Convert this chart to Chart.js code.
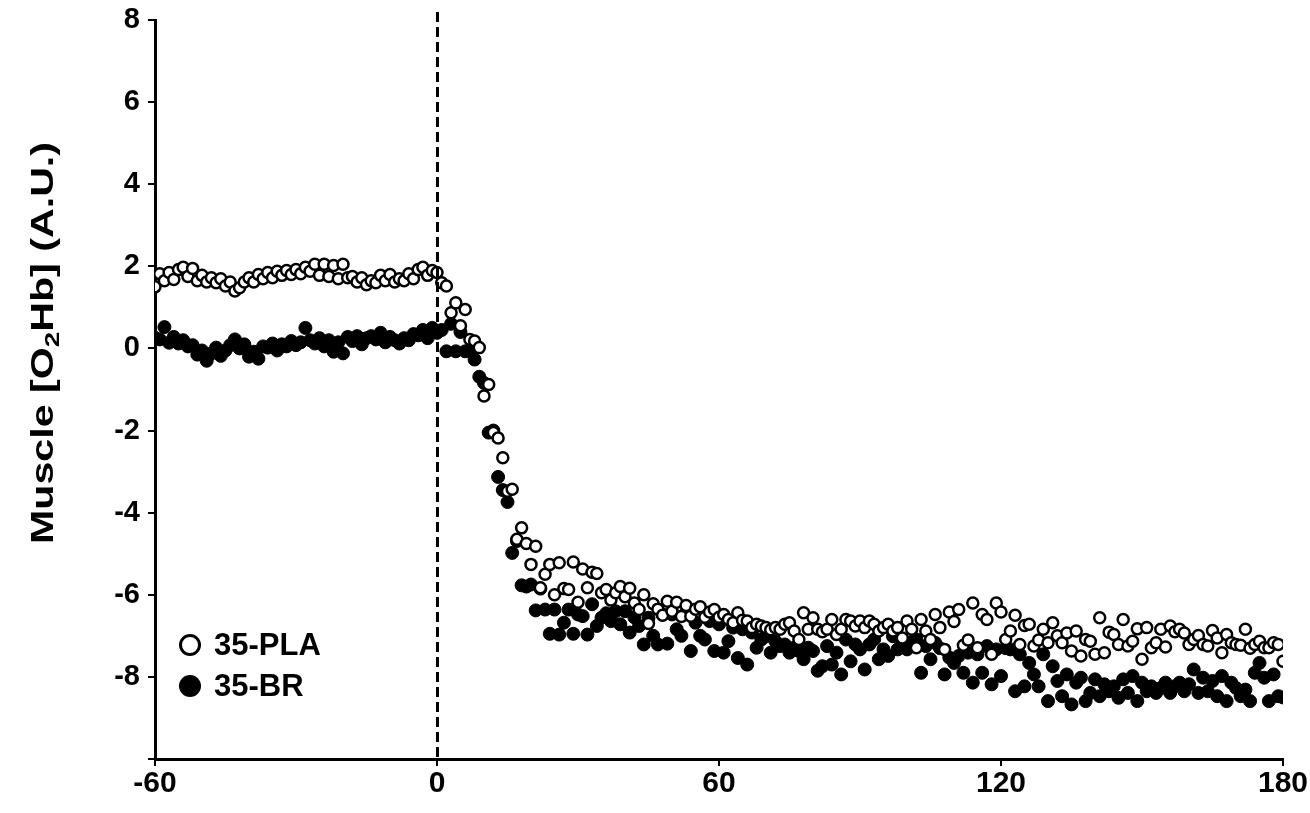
<!DOCTYPE html>
<html><head><meta charset="utf-8">
<script src="https://cdn.jsdelivr.net/npm/chart.js@4/dist/chart.umd.min.js"></script>
<style>html,body{margin:0;padding:0;background:#fff}#wrap{width:1310px;height:813px;position:relative}</style>
</head><body><div id="wrap"><canvas id="c" width="1310" height="813"></canvas></div>
<script>
// time in seconds (1 Hz samples, -60 .. 180)
const seconds = Array.from({length: 241}, (_, i) => i - 60);

// 35-PLA (open circles)
const pla = [
 1.50, 1.82, 1.65, 1.85, 1.68, 1.92, 1.98, 1.75, 1.95, 1.65,
 1.78, 1.62, 1.72, 1.60, 1.70, 1.52, 1.62, 1.40, 1.48, 1.62,
 1.72, 1.62, 1.80, 1.70, 1.85, 1.72, 1.88, 1.78, 1.90, 1.80,
 1.92, 1.82, 1.98, 1.88, 2.05, 1.78, 2.05, 1.75, 2.02, 1.70,
 2.05, 1.72, 1.75, 1.62, 1.72, 1.55, 1.65, 1.60, 1.78, 1.65,
 1.80, 1.62, 1.70, 1.65, 1.82, 1.70, 1.92, 1.98, 1.78, 1.90,
 1.85, 1.60, 1.52, 0.87, 1.11, 0.55, 0.95, 0.22, 0.18, 0.02,
 -1.16, -0.88, -2.05, -2.18, -2.66, -3.48, -3.43, -4.65, -4.37, -4.75,
 -5.26, -4.82, -5.83, -5.50, -5.26, -6.00, -5.22, -5.85, -5.87, -5.20,
 -6.18, -5.37, -5.83, -5.45, -5.48, -5.95, -5.87, -6.13, -5.95, -5.80,
 -6.05, -5.84, -6.20, -6.36, -6.00, -6.70, -6.22, -6.35, -6.50, -6.16,
 -6.40, -6.18, -6.53, -6.26, -6.52, -6.35, -6.29, -6.55, -6.42, -6.36,
 -6.55, -6.48, -6.60, -6.68, -6.44, -6.62, -6.64, -6.80, -6.72, -6.76,
 -6.80, -6.85, -6.80, -6.84, -6.72, -6.68, -6.88, -7.09, -6.44, -6.84,
 -6.56, -6.84, -6.90, -6.84, -6.60, -6.97, -6.84, -6.60, -6.64, -6.76,
 -6.64, -6.80, -6.64, -6.72, -6.88, -6.80, -6.72, -6.88, -6.80, -7.05,
 -6.64, -6.84, -7.29, -6.60, -6.88, -7.09, -6.48, -6.80, -7.33, -6.42,
 -6.65, -6.36, -7.23, -7.10, -6.20, -7.29, -6.48, -6.60, -7.45, -6.20,
 -6.42, -7.09, -6.88, -6.50, -7.21, -6.75, -6.72, -7.25, -7.10, -6.84,
 -7.17, -6.68, -7.00, -7.17, -6.93, -7.37, -6.88, -7.49, -7.09, -7.13,
 -7.45, -6.56, -7.41, -6.91, -6.97, -7.21, -6.60, -7.25, -7.13, -6.83,
 -7.57, -6.80, -7.29, -7.17, -6.84, -7.27, -6.76, -6.90, -6.84, -6.93,
 -7.21, -7.09, -6.99, -7.21, -7.25, -6.87, -7.05, -7.41, -6.97, -7.17,
 -7.21, -7.23, -6.84, -7.30, -7.21, -7.13, -7.29, -7.29, -7.17, -7.21,
 -7.62
];

// 35-BR (filled circles)
const br = [
 0.26, 0.22, 0.52, 0.14, 0.28, 0.12, 0.20, 0.05, 0.08, -0.15,
 -0.05, -0.30, -0.12, 0.02, -0.18, -0.05, 0.08, 0.22, 0.00, 0.10,
 -0.20, -0.08, -0.25, 0.05, 0.02, 0.12, -0.05, 0.10, 0.05, 0.18,
 0.08, 0.15, 0.50, 0.20, 0.12, 0.25, 0.05, 0.20, -0.08, 0.15,
 -0.12, 0.28, 0.18, 0.30, 0.10, 0.25, 0.30, 0.22, 0.38, 0.15,
 0.28, 0.20, 0.12, 0.25, 0.20, 0.35, 0.32, 0.45, 0.25, 0.50,
 0.38, 0.45, -0.07, 0.60, -0.07, 0.40, -0.07, -0.07, -0.27, -0.69,
 -0.84, -2.05, -2.00, -3.13, -3.45, -3.74, -4.98, -4.69, -5.77, -5.80,
 -5.75, -6.38, -5.85, -6.36, -6.95, -6.36, -6.97, -6.68, -6.36, -6.95,
 -6.48, -6.52, -6.97, -6.23, -6.76, -6.56, -6.45, -6.64, -6.40, -6.72,
 -6.40, -6.92, -6.55, -6.76, -7.21, -6.56, -7.00, -7.21, -6.48, -7.19,
 -6.48, -6.84, -7.00, -6.44, -7.37, -6.68, -7.00, -7.09, -6.64, -7.37,
 -6.72, -7.41, -7.13, -6.80, -7.54, -6.84, -7.70, -6.92, -7.29, -7.09,
 -7.01, -7.41, -7.13, -7.25, -7.21, -7.41, -7.29, -7.37, -7.57, -7.29,
 -7.37, -7.85, -7.74, -7.25, -7.70, -7.41, -7.94, -7.09, -7.62, -7.21,
 -7.33, -7.82, -7.21, -7.09, -7.57, -7.33, -7.49, -7.01, -7.33, -7.20,
 -7.33, -7.15, -7.09, -7.90, -7.25, -7.57, -7.17, -7.30, -7.94, -7.53,
 -7.66, -7.49, -7.90, -7.41, -8.14, -7.45, -7.90, -7.25, -8.18, -7.33,
 -7.98, -7.30, -7.33, -8.35, -7.45, -8.23, -7.66, -7.94, -8.23, -7.45,
 -8.59, -7.74, -8.10, -8.47, -7.94, -8.67, -8.14, -8.02, -8.59, -8.39,
 -8.06, -8.47, -8.18, -8.35, -8.23, -8.51, -8.06, -8.39, -7.98, -8.59,
 -8.14, -8.35, -8.23, -8.39, -8.27, -8.14, -8.39, -8.23, -8.14, -8.35,
 -8.18, -7.82, -8.39, -8.02, -8.35, -8.10, -8.47, -7.98, -8.59, -8.14,
 -8.27, -8.47, -8.31, -8.59, -7.90, -7.66, -8.02, -8.59, -7.94, -8.47,
 -8.50
];

const xTicks = [-60, 0, 60, 120, 180];
const yTicks = [-10, -8, -6, -4, -2, 0, 2, 4, 6, 8];
const seriesNames = ['35-PLA', '35-BR'];
const yTitleParts = ['Muscle [O', '2', 'Hb] (A.U.)'];
const markerTime = 0;

const FONT = '"Liberation Sans", Arial, sans-serif';

const overlay = {
  id: 'overlay',
  afterDatasetsDraw(chart) {
    const ctx = chart.ctx, ca = chart.chartArea;
    const xs = chart.scales.x;
    // dashed vertical marker at t = 0
    const x0 = Math.round(xs.getPixelForValue(markerTime)) + 0.5;
    ctx.save();
    ctx.strokeStyle = '#000';
    ctx.lineWidth = 3;
    ctx.setLineDash([10, 5]);
    ctx.beginPath();
    ctx.moveTo(x0, ca.top - 8);
    ctx.lineTo(x0, ca.bottom);
    ctx.stroke();
    ctx.restore();

    // legend
    ctx.save();
    ctx.lineWidth = 3;
    ctx.strokeStyle = '#000';
    ctx.fillStyle = '#fff';
    ctx.beginPath(); ctx.arc(190, 645, 9.5, 0, Math.PI * 2); ctx.fill(); ctx.stroke();
    ctx.fillStyle = '#000';
    ctx.beginPath(); ctx.arc(190, 686, 11, 0, Math.PI * 2); ctx.fill();
    ctx.font = 'bold 31px ' + FONT;
    ctx.textBaseline = 'middle';
    ctx.textAlign = 'left';
    ctx.fillText(seriesNames[0], 214, 646);
    ctx.fillText(seriesNames[1], 214, 687);
    ctx.restore();

    // y axis title with subscript
    ctx.save();
    ctx.translate(44, 343);
    ctx.rotate(-Math.PI / 2);
    const big = 'bold 31px ' + FONT, small = 'bold 21px ' + FONT;
    ctx.font = big; const w0 = ctx.measureText(yTitleParts[0]).width;
    const w2 = ctx.measureText(yTitleParts[2]).width;
    ctx.font = small; const w1 = ctx.measureText(yTitleParts[1]).width;
    const total = w0 + w1 + w2;
    const target = 402;
    ctx.scale(target / total, 1);
    let x = -total / 2;
    ctx.fillStyle = '#000';
    ctx.textBaseline = 'middle';
    ctx.textAlign = 'left';
    ctx.font = big; ctx.fillText(yTitleParts[0], x, 0); x += w0;
    ctx.font = small; ctx.fillText(yTitleParts[1], x, 9); x += w1;
    ctx.font = big; ctx.fillText(yTitleParts[2], x, 0);
    ctx.restore();
  }
};

new Chart(document.getElementById('c'), {
  type: 'scatter',
  data: {
    datasets: [
      {
        label: seriesNames[0],
        data: seconds.map((t, i) => ({x: t, y: pla[i]})),
        pointRadius: 5.5, pointHoverRadius: 5.5,
        pointBorderWidth: 2.5,
        pointBackgroundColor: '#fff', pointBorderColor: '#000',
        showLine: false
      },
      {
        label: seriesNames[1],
        data: seconds.map((t, i) => ({x: t, y: br[i]})),
        pointRadius: 6.5, pointHoverRadius: 6.5,
        pointBorderWidth: 1,
        pointBackgroundColor: '#000', pointBorderColor: '#000',
        showLine: false
      }
    ]
  },
  options: {
    responsive: false,
    animation: false,
    events: [],
    layout: {padding: {left: 0, right: 27, top: 20, bottom: 0}},
    plugins: {legend: {display: false}, tooltip: {enabled: false}},
    scales: {
      x: {
        type: 'linear', min: -60, max: 180,
        afterBuildTicks: s => { s.ticks = xTicks.map(v => ({value: v})); },
        afterFit: s => { s.height = 54; s.paddingLeft = 0; s.paddingRight = 0; },
        grid: {display: true, drawOnChartArea: false, drawTicks: true, tickLength: 7, color: '#000', lineWidth: 2},
        border: {display: true, color: '#000', width: 3},
        ticks: {color: '#000', padding: 0, maxRotation: 0, autoSkip: false,
                font: {family: FONT, weight: 'bold', size: 30}}
      },
      y: {
        type: 'linear', min: -10, max: 8,
        afterBuildTicks: s => { s.ticks = yTicks.map(v => ({value: v})); },
        afterFit: s => { s.width = 155; s.paddingTop = 0; s.paddingBottom = 0; },
        grid: {display: true, drawOnChartArea: false, drawTicks: true, tickLength: 7, color: '#000', lineWidth: 2},
        border: {display: true, color: '#000', width: 3},
        ticks: {color: '#000', padding: 8, autoSkip: false,
                callback: v => (v === -10 ? '' : String(v)),
                font: {family: FONT, weight: 'bold', size: 29}}
      }
    }
  },
  plugins: [overlay]
});
</script>
</body></html>
